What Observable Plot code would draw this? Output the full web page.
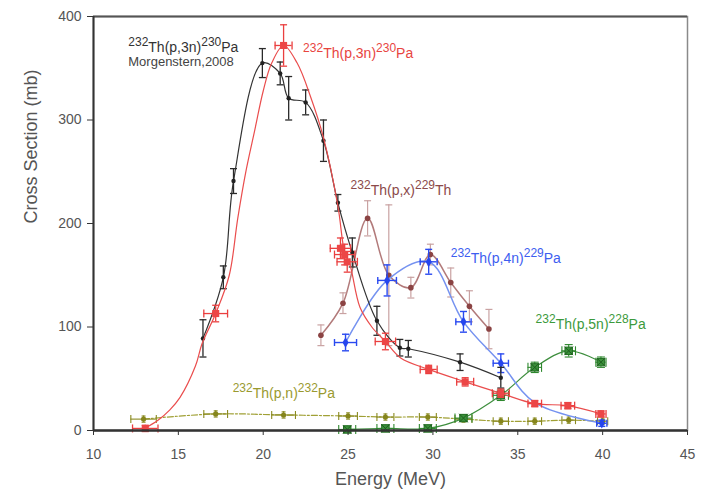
<!DOCTYPE html>
<html>
<head>
<meta charset="utf-8">
<script src="https://cdn.jsdelivr.net/npm/d3@7"></script>
<script src="https://cdn.jsdelivr.net/npm/@observablehq/plot@0.6"></script>
<style>
  html, body { margin: 0; padding: 0; background: #fff; }
  #chart { width: 702px; height: 491px; overflow: hidden; }
</style>
</head>
<body>
<div id="chart"></div>
<script>
// ---- Tick values ----
const xTicks = [10, 15, 20, 25, 30, 35, 40, 45];
const yTicks = [0, 100, 200, 300, 400];

// ---- Morgenstern 2008, 232Th(p,3n)230Pa (black) ----
const blackE   = [16.45, 17.65, 18.25, 19.95, 21.0, 21.5, 22.5, 23.55, 24.4, 25.25, 26.7, 28.05, 28.55, 31.6, 34.0];
const blackS   = [89, 148, 241, 355, 345, 321, 317, 280, 220, 172, 106, 80, 79, 66, 51];
const blackErr = [18, 11, 12, 14, 11, 21, 12, 20, 8, 14, 14, 8, 8, 8, 10];

// ---- This work, 232Th(p,3n)230Pa (red) ----
const redE    = [13.05, 17.2, 21.2, 24.55, 24.8, 24.95, 27.2, 29.75, 31.9, 34.0, 36.0, 37.95, 39.9];
const redS    = [2, 113, 372, 176, 170, 163, 86, 59, 47, 36, 26, 24, 16];
const redErrE = [0.75, 0.7, 0.5, 0.6, 0.6, 0.6, 0.6, 0.5, 0.5, 0.5, 0.4, 0.4, 0.3];
const redErrS = [3, 8, 20, 10, 10, 10, 8, 4, 4, 4, 3, 3, 3];
// red fitted curve
const redFitE = [13.0, 13.8, 14.5, 15.1, 16.0, 16.4, 17.2, 18.0, 18.5, 19.0, 19.5, 20.0, 20.5, 21.2, 22.0, 22.8, 23.55, 24.4, 24.8, 25.1, 25.7, 26.4, 27.2, 28.1, 29.75, 31.9, 34.0, 36.0, 37.95, 39.9];
const redFitS = [2, 10, 20, 32, 62, 84, 113, 150, 205, 252, 290, 328, 355, 372, 355, 322, 283, 217, 172, 161, 119, 100, 86, 70, 59, 47, 36, 26, 24, 16];

// ---- 232Th(p,x)229Th (brown) ----
const brownE   = [23.4, 24.7, 26.15, 27.4, 28.7, 29.85, 31.05, 32.15, 33.3];
const brownS   = [92, 123, 205, 150, 138, 170, 143, 120, 98];
const brownErr = [10, 10, 17, 68, 10, 10, 14, 15, 19];

// ---- 232Th(p,4n)229Pa (blue) ----
const blueE    = [24.85, 27.3, 29.75, 31.8, 34.0, 39.95];
const blueS    = [85, 145, 163, 105, 65, 7];
const blueErrE = [0.65, 0.55, 0.5, 0.45, 0.45, 0.3];
const blueErrS = [8, 15, 12, 10, 9, 3];
const blueFitE = [24.85, 27.3, 29.75, 31.8, 34.0, 36.0, 39.95];
const blueFitS = [85, 145, 163, 105, 65, 27, 7];

// ---- 232Th(p,5n)228Pa (green) ----
const greenE    = [24.95, 27.2, 29.7, 31.8, 34.0, 36.0, 38.0, 39.9];
const greenS    = [1, 2, 2, 12, 34, 61, 77, 66];
const greenErrE = [0.5, 0.5, 0.5, 0.5, 0.45, 0.4, 0.4, 0.3];
const greenErrS = [3, 3, 3, 3, 5, 5, 6, 5];

// ---- 232Th(p,n)232Pa (olive) ----
const oliveE    = [12.95, 17.2, 21.2, 25.0, 27.2, 29.7, 31.8, 34.0, 36.0, 38.0, 40.0];
const oliveS    = [11, 16, 15, 14, 13, 13, 11, 9, 9, 10, 9];
const oliveErrE = [0.75, 0.7, 0.7, 0.55, 0.5, 0.5, 0.5, 0.45, 0.4, 0.4, 0.3];
const oliveErrS = [3, 3, 3, 3, 3, 3, 3, 3, 3, 3, 3];

// ---- Annotations ----
const labelText  = ["232Th(p,3n)230Pa", "232Th(p,3n)230Pa", "232Th(p,x)229Th", "232Th(p,4n)229Pa", "232Th(p,5n)228Pa", "232Th(p,n)232Pa"];
const labelE     = [12.05, 22.35, 25.15, 31.05, 36.05, 18.2];
const labelS     = [366, 360, 228, 162, 98, 31];
const labelColor = ["#333333", "#e8453f", "#8c4a4a", "#3d5ef0", "#3c9a3c", "#9a9a30"];
const subNote = "Morgenstern,2008";

// ---- build tables ----
const zip = (E, S, extra = {}) => E.map((e, i) => {
  const o = {e, s: S[i]};
  for (const k in extra) o[k] = extra[k][i];
  return o;
});
const black = zip(blackE, blackS, {ey: blackErr});
const red = zip(redE, redS, {ex: redErrE, ey: redErrS});
const redFit = zip(redFitE, redFitS);
const brown = zip(brownE, brownS, {ey: brownErr});
const blue = zip(blueE, blueS, {ex: blueErrE, ey: blueErrS});
const blueFit = zip(blueFitE, blueFitS);
const green = zip(greenE, greenS, {ex: greenErrE, ey: greenErrS});
const olive = zip(oliveE, oliveS, {ex: oliveErrE, ey: oliveErrS});
const labels = labelText.map((t, i) => ({t, e: labelE[i], s: labelS[i], c: labelColor[i]}));

// cap symbols
const hcap = {draw(ctx, size) { const w = Math.sqrt(size / Math.PI); ctx.moveTo(-w, 0); ctx.lineTo(w, 0); }};
const vcap = {draw(ctx, size) { const w = Math.sqrt(size / Math.PI); ctx.moveTo(0, -w); ctx.lineTo(0, w); }};

function vErr(data, color, cap = 3.5, sw = 1.1) {
  return [
    Plot.ruleX(data, {x: "e", y1: d => d.s - d.ey, y2: d => d.s + d.ey, stroke: color, strokeWidth: sw}),
    Plot.dot(data, {x: "e", y: d => d.s - d.ey, symbol: hcap, r: cap, stroke: color, fill: "none", strokeWidth: sw}),
    Plot.dot(data, {x: "e", y: d => d.s + d.ey, symbol: hcap, r: cap, stroke: color, fill: "none", strokeWidth: sw})
  ];
}
function hErr(data, color, cap = 3.5, sw = 1.1) {
  return [
    Plot.ruleY(data, {y: "s", x1: d => d.e - d.ex, x2: d => d.e + d.ex, stroke: color, strokeWidth: sw}),
    Plot.dot(data, {y: "s", x: d => d.e - d.ex, symbol: vcap, r: cap, stroke: color, fill: "none", strokeWidth: sw}),
    Plot.dot(data, {y: "s", x: d => d.e + d.ex, symbol: vcap, r: cap, stroke: color, fill: "none", strokeWidth: sw})
  ];
}

const chart = Plot.plot({
  width: 702,
  height: 491,
  marginLeft: 93,
  marginRight: 15,
  marginTop: 16,
  marginBottom: 61,
  style: {fontFamily: "'Liberation Sans', Arial, sans-serif", fontSize: "14px", background: "#fff", color: "#444"},
  x: {domain: [10, 45]},
  y: {domain: [0, 400]},
  marks: [
    // frame
    Plot.frame({stroke: "#8a8a8a", strokeWidth: 1.5}),
    Plot.ruleY([400], {stroke: "#555", strokeWidth: 2.2}),

    // olive (p,n)
    Plot.line(olive, {x: "e", y: "s", stroke: "#a0a035", strokeWidth: 1.2, strokeDasharray: "6,2,2,2", curve: "catmull-rom"}),
    ...hErr(olive, "#8a8a20", 4),
    ...vErr(olive, "#8a8a20", 2),
    Plot.dot(olive, {x: "e", y: "s", r: 2.6, fill: "#85851c"}),

    // green (p,5n)
    Plot.line(green, {x: "e", y: "s", stroke: "#3e8e3e", strokeWidth: 1.2, curve: "catmull-rom"}),
    ...hErr(green, "#2e882e", 4.5),
    ...vErr(green, "#2e882e", 4),
    Plot.dot(green, {x: "e", y: "s", r: 4.2, symbol: "square", fill: "#3a8f3a", stroke: "#216e21", strokeWidth: 1}),
    Plot.dot(green, {x: "e", y: "s", r: 4, symbol: "times", stroke: "#1d5f1d", strokeWidth: 1}),

    // brown (p,x)
    Plot.line(brown, {x: "e", y: "s", stroke: "#b27a7a", strokeWidth: 1.5, curve: "catmull-rom"}),
    ...vErr(brown, "#c9a2a2", 3.5, 1.2),
    Plot.dot(brown, {x: "e", y: "s", r: 2.8, fill: "#8b4343"}),

    // blue (p,4n)
    Plot.line(blueFit, {x: "e", y: "s", stroke: "#7592f0", strokeWidth: 1.5, curve: "catmull-rom"}),
    ...hErr(blue, "#2a4af0", 3.5, 1.4),
    ...vErr(blue, "#2a4af0", 3.5, 1.4),
    Plot.dot(blue, {x: "e", y: "s", r: 3.2, symbol: "diamond", fill: "#2545ee"}),

    // black (Morgenstern)
    Plot.line(black, {x: "e", y: "s", stroke: "#333", strokeWidth: 1.2, curve: "catmull-rom"}),
    ...vErr(black, "#2a2a2a", 3.5, 1.3),
    Plot.dot(black, {x: "e", y: "s", r: 2.2, fill: "#222"}),

    // red (this work)
    Plot.line(redFit, {x: "e", y: "s", stroke: "#ea4d4d", strokeWidth: 1.2, curve: "catmull-rom"}),
    ...hErr(red, "#ea3f3f", 4, 1.3),
    ...vErr(red, "#ea3f3f", 3.5, 1.3),
    Plot.dot(red, {x: "e", y: "s", r: 4, symbol: "square", fill: "#ec4646"}),

    // axes
    Plot.ruleX([10], {stroke: "#333", strokeWidth: 2}),
    Plot.ruleY([0], {stroke: "#333", strokeWidth: 2.5}),
    Plot.axisX({ticks: xTicks, tickSize: 5, tickPadding: 14, fontSize: 14, label: null, stroke: "#333", fill: "#555"}),
    Plot.axisY({ticks: yTicks, tickSize: 6, tickPadding: 6, fontSize: 14, label: null, stroke: "#333", fill: "#555"}),
    Plot.text(["Energy (MeV)"], {frameAnchor: "bottom", dy: 54, lineAnchor: "bottom", fontSize: 18, fill: "#555"}),
    Plot.text(["Cross Section (mb)"], {frameAnchor: "left", dx: -62, rotate: -90, lineAnchor: "middle", fontSize: 18, fill: "#555"}),

    // annotations
    Plot.text(labels, {x: "e", y: "s", text: "t", fill: "c", textAnchor: "start", lineAnchor: "bottom", fontSize: 14, className: "reaction-label"}),
    Plot.text([subNote], {x: labelE[0], y: labelS[0] - 14, textAnchor: "start", lineAnchor: "bottom", fontSize: 13, fill: "#444"})
  ]
});

// superscripts for nuclide labels
const NS = "http://www.w3.org/2000/svg";
const labelNodes = new Set();
chart.querySelectorAll("text").forEach(t => {
  if (/^\d+Th\(p,[^)]*\)\d+\D+$/.test(t.textContent)) labelNodes.add(t);
});
labelNodes.forEach(t => {
  const s = t.textContent;
  const m = s.match(/^(\d+)(.*?)(\d+)(\D+)$/);
  if (!m) return;
  while (t.firstChild) t.removeChild(t.firstChild);
  const add = (str, fs, dy) => {
    const ts = document.createElementNS(NS, "tspan");
    ts.textContent = str;
    ts.setAttribute("font-size", fs);
    if (dy) ts.setAttribute("dy", dy);
    t.appendChild(ts);
  };
  add(m[1], 12, -6);
  add(m[2], 14, 6);
  add(m[3], 12, -6);
  add(m[4], 14, 6);
});

document.getElementById("chart").appendChild(chart);
</script>
</body>
</html>
